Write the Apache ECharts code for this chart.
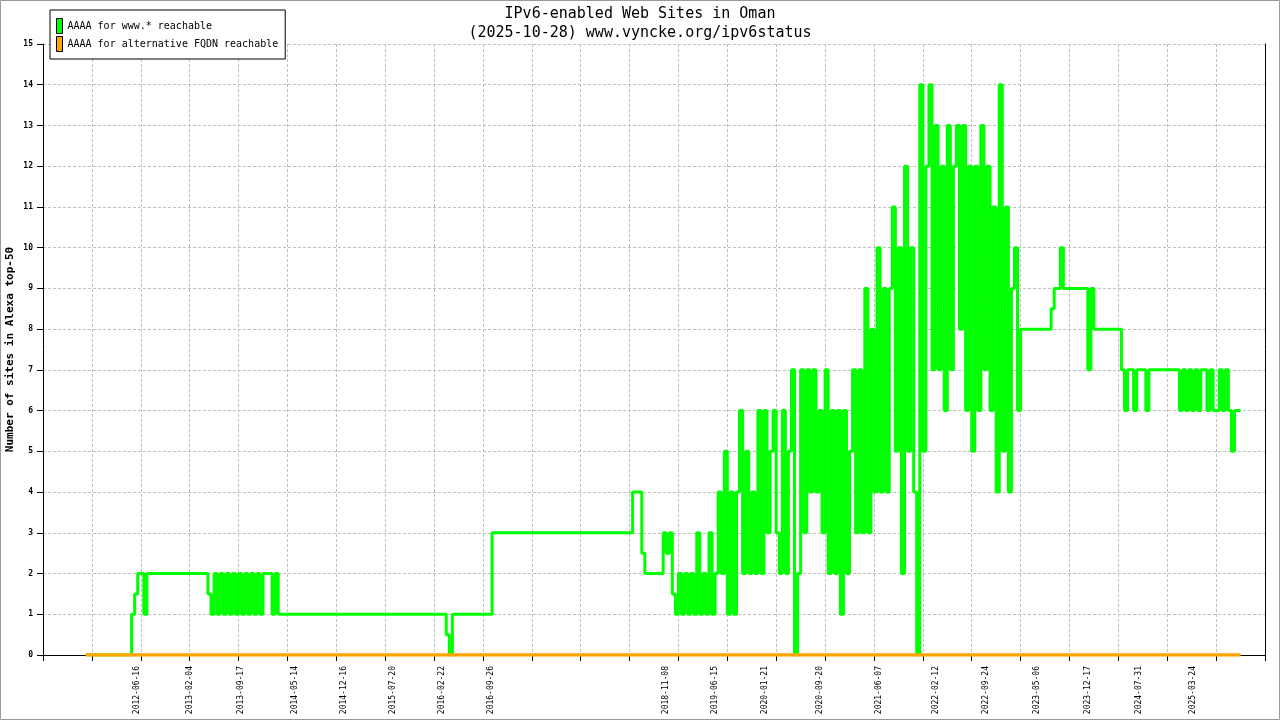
<!DOCTYPE html>
<html>
<head>
<meta charset="utf-8">
<script src="https://cdn.jsdelivr.net/npm/echarts@6/dist/echarts.min.js"></script>
<style>html,body{margin:0;padding:0;background:#fff}#c{width:1280px;height:720px}</style>
</head>
<body>
<div id="c"></div>
<script>
const titleLines = ['IPv6-enabled Web Sites in Oman', '(2025-10-28) www.vyncke.org/ipv6status'];
const seriesNames = ['AAAA for www.* reachable', 'AAAA for alternative FQDN reachable'];
const yAxisName = 'Number of sites in Alexa top-50';

// date labels printed under the x axis
const xLabelDates = ['2012-06-16','2013-02-04','2013-09-17','2014-05-14','2014-12-16','2015-07-20',
  '2016-02-22','2016-09-26','2018-11-08','2019-06-15','2020-01-21','2020-09-20','2021-06-07',
  '2022-02-12','2022-09-24','2023-05-06','2023-12-17','2024-07-31','2025-03-24'];

// time axis range and evenly spaced tick marks
const axisStartDate = '2011-04-27';
const axisTickDays = 216;
const axisTickCount = 25;
const yMax = 15;

// samples, one every sampleStepDays starting at firstSampleDate
const firstSampleDate = '2011-11-02';
const sampleStepDays = 13.5;

const wwwReachable = [
  0,0,0,0,0,0,0,0,0,0,0,0,0,0,0,
  1,1.5,2,2,1,
  2,2,2,2,2,2,2,2,2,2,2,2,2,2,2,2,2,2,2,2,
  1.5,1,
  2,1,2,1,2,1,2,1,2,1,2,1,2,1,2,1,
  2,2,2,1,2,
  1,1,1,1,1,1,1,1,1,1,
  1,1,1,1,1,1,1,1,1,1,
  1,1,1,1,1,1,1,1,1,1,
  1,1,1,1,1,1,1,1,1,1,
  1,1,1,1,1,1,1,1,1,1,
  1,1,1,1,1,
  0.5,0,
  1,1,1,1,1,1,1,1,1,1,1,1,1,
  3,3,3,3,3,3,3,3,3,3,
  3,3,3,3,3,3,3,3,3,3,
  3,3,3,3,3,3,3,3,3,3,
  3,3,3,3,3,3,3,3,3,3,
  3,3,3,3,3,3,
  4,4,4,2.5,
  2,2,2,2,2,2,
  3,2.5,3,1.5,1,2,1,2,1,2,1,3,1,2,1,3,1,2,
  4,2,5,1,4,1,4,6,2,5,2,4,
  2,6,2,6,3,5,6,3,2,6,2,5,7,0,2,
  7,3,7,4,7,4,6,3,7,
  2,6,2,6,1,6,2,5,7,3,
  7,3,9,3,8,4,10,4,9,4,9,11,5,
  10,2,12,5,10,4,0,14,5,12,
  14,7,13,7,12,6,13,7,12,13,8,13,
  6,12,5,12,6,13,7,12,6,11,4,14,5,11,4,9,10,6,
  8,8,8,8,8,8,8,8,8,8,
  8.5,9,9,10,9,9,9,9,9,9,9,9,7,9,
  8,8,8,8,8,8,8,8,8,
  7,6,7,7,6,7,7,7,6,
  7,7,7,7,7,7,7,7,7,
  7,6,7,6,7,6,7,6,7,7,6,7,6,6,7,6,7,6,5,6,6,6
];

const fqdnReachable = [
  0,0,0,0,0,0,0,0,0,0,0,0,0,0,0,0,0,0,0,0,
  0,0,0,0,0,0,0,0,0,0,0,0,0,0,0,0,0,0,0,0,
  0,0,0,0,0,0,0,0,0,0,0,0,0,0,0,0,0,0,0,0,
  0,0,0,0,0,0,0,0,0,0,0,0,0,0,0,0,0,0,0,0,
  0,0,0,0,0,0,0,0,0,0,0,0,0,0,0,0,0,0,0,0,
  0,0,0,0,0,0,0,0,0,0,0,0,0,0,0,0,0,0,0,0,
  0,0,0,0,0,0,0,0,0,0,0,0,0,0,0,0,0,0,0,0,
  0,0,0,0,0,0,0,0,0,0,0,0,0,0,0,0,0,0,0,0,
  0,0,0,0,0,0,0,0,0,0,0,0,0,0,0,0,0,0,0,0,
  0,0,0,0,0,0,0,0,0,0,0,0,0,0,0,0,0,0,0,0,
  0,0,0,0,0,0,0,0,0,0,0,0,0,0,0,0,0,0,0,0,
  0,0,0,0,0,0,0,0,0,0,0,0,0,0,0,0,0,0,0,0,
  0,0,0,0,0,0,0,0,0,0,0,0,0,0,0,0,0,0,0,0,
  0,0,0,0,0,0,0,0,0,0,0,0,0,0,0,0,0,0,0,0,
  0,0,0,0,0,0,0,0,0,0,0,0,0,0,0,0,0,0,0,0,
  0,0,0,0,0,0,0,0,0,0,0,0,0,0,0,0,0,0,0,0,
  0,0,0,0,0,0,0,0,0,0,0,0,0,0,0,0,0,0,0,0,
  0,0,0,0,0,0,0,0,0,0,0,0,0,0,0,0,0,0,0,0,
  0,0,0,0,0,0,0,0,0,0,0,0,0,0,0,0,0,0,0
];

const DAY = 86400000;
const dayOf = d => Math.round((Date.parse(d) - Date.parse(axisStartDate)) / DAY);
const firstDay = dayOf(firstSampleDate);
const toPoints = arr => arr.map((v, k) => [firstDay + k * sampleStepDays, v]);
const labelDays = xLabelDates.map(dayOf);
const labelByDay = {};
xLabelDates.forEach((d, k) => { labelByDay[labelDays[k]] = d; });

const MONO = "'DejaVu Sans Mono', 'Liberation Mono', monospace";
const gridLine = { show: true, lineStyle: { color: '#c0c0c0', type: [3, 2], width: 1 } };

const chart = echarts.init(document.getElementById('c'), null, { renderer: 'canvas' });
chart.setOption({
  animation: false,
  backgroundColor: '#fff',
  title: {
    text: titleLines.join('\n'),
    left: 'center', top: 5, padding: 0,
    textStyle: { fontFamily: MONO, fontSize: 15, fontWeight: 'normal', color: '#000', lineHeight: 19 }
  },
  legend: {
    data: seriesNames,
    orient: 'vertical', left: 50, top: 10,
    padding: [8, 7, 7, 6],
    itemGap: 2, itemWidth: 6, itemHeight: 15, icon: 'rect',
    itemStyle: { borderColor: '#000', borderWidth: 1 },
    backgroundColor: '#fff', borderColor: '#000', borderWidth: 1,
    textStyle: { fontFamily: MONO, fontSize: 10, color: '#000' }
  },
  grid: { left: 43, right: 15, top: 44, bottom: 65, containLabel: false, outerBoundsMode: 'none' },
  xAxis: {
    type: 'value', min: 0, max: axisTickDays * axisTickCount, interval: axisTickDays,
    axisLine: { show: true, lineStyle: { color: '#000', width: 1 } },
    axisTick: { show: true, length: 6, lineStyle: { color: '#000' } },
    splitLine: gridLine,
    axisLabel: {
      customValues: labelDays,
      formatter: v => labelByDay[Math.round(v)] || '',
      rotate: 90, margin: 11, fontFamily: MONO, fontSize: 8, color: '#000'
    }
  },
  yAxis: [{
    type: 'value', min: 0, max: yMax, interval: 1,
    name: yAxisName, nameLocation: 'middle', nameGap: 27, nameMoveOverlap: false,
    nameTextStyle: { fontFamily: MONO, fontSize: 11, fontWeight: 'bold', color: '#000' },
    axisLine: { show: true, lineStyle: { color: '#000', width: 1 } },
    axisTick: { show: true, length: 6, lineStyle: { color: '#000' } },
    axisLabel: { margin: 10, fontFamily: MONO, fontSize: 8, fontWeight: 'bold', color: '#000' },
    splitLine: gridLine
  }, {
    type: 'value', min: 0, max: yMax, interval: 1, position: 'right',
    axisLine: { show: true, lineStyle: { color: '#000', width: 1 } },
    axisTick: { show: false }, axisLabel: { show: false }, splitLine: { show: false }
  }],
  series: [{
    name: seriesNames[0], type: 'line', step: 'end', showSymbol: false, symbol: 'none',
    data: toPoints(wwwReachable), color: '#00ff00',
    lineStyle: { width: 3, color: '#00ff00' }, z: 2
  }, {
    name: seriesNames[1], type: 'line', step: 'end', showSymbol: false, symbol: 'none',
    data: toPoints(fqdnReachable), color: '#ffa500',
    lineStyle: { width: 3.5, color: '#ffa500' }, z: 3
  }],
  graphic: [{
    type: 'rect', silent: true, z: 100,
    shape: { x: 0.5, y: 0.5, width: 1279, height: 719 },
    style: { fill: 'none', stroke: '#999', lineWidth: 1 }
  }]
});
</script>
</body>
</html>
